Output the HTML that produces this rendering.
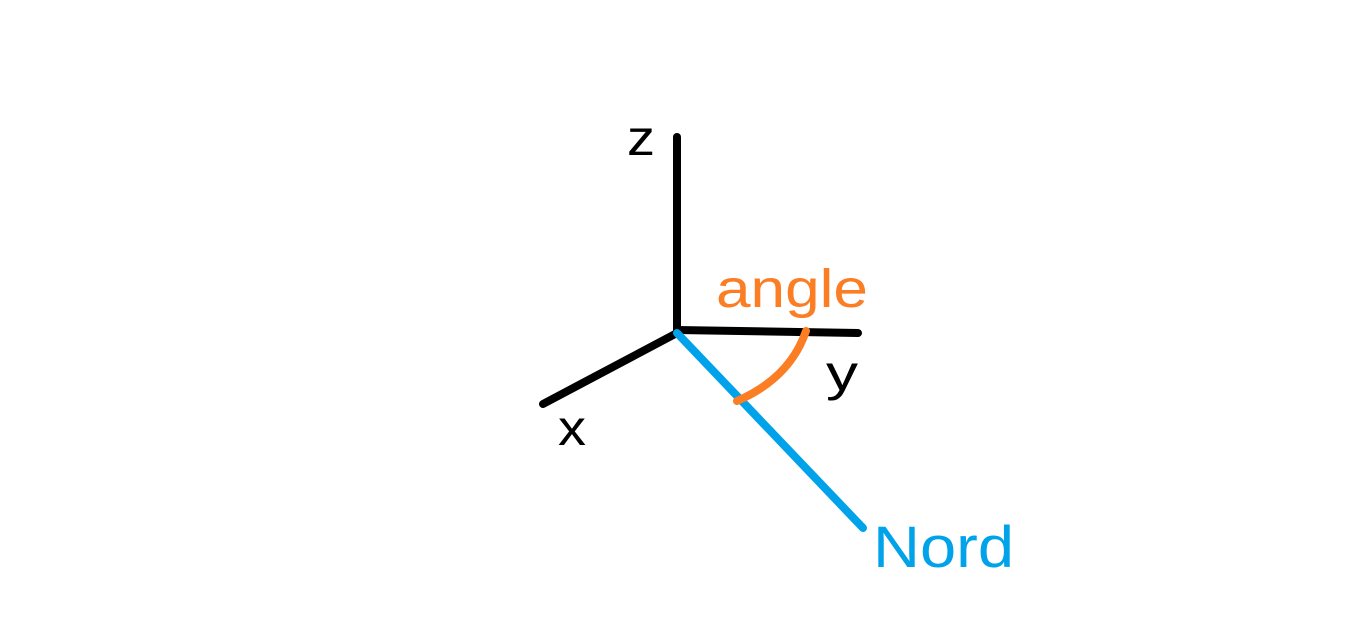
<!DOCTYPE html>
<html><head><style>
html,body{margin:0;padding:0;background:#fff;}
svg{display:block;}
text{font-family:"Liberation Sans","DejaVu Sans",sans-serif;}
</style></head><body>
<svg width="1350" height="629" viewBox="0 0 1350 629" xmlns="http://www.w3.org/2000/svg">
<g stroke-linecap="round" fill="none">
<line x1="677" y1="137" x2="677" y2="332" stroke="#000" stroke-width="8"/>
<line x1="677" y1="330" x2="858" y2="333" stroke="#000" stroke-width="8"/>
<line x1="677" y1="333" x2="543" y2="404" stroke="#000" stroke-width="8"/>
<line x1="677" y1="333" x2="863" y2="528" stroke="#00a2ea" stroke-width="8"/>
<path d="M806 331 Q790 378 737 401" stroke="#fb7d24" stroke-width="8"/>
</g>
<text x="627" y="155" font-size="50" fill="#000" textLength="28" lengthAdjust="spacingAndGlyphs">z</text>
<text x="716" y="307" font-size="54" fill="#fb7d24" textLength="152" lengthAdjust="spacingAndGlyphs">angle</text>
<text x="826" y="390" font-size="50" fill="#000" textLength="32" lengthAdjust="spacingAndGlyphs">y</text>
<text x="558" y="445" font-size="50" fill="#000" textLength="28" lengthAdjust="spacingAndGlyphs">x</text>
<text x="873" y="567" font-size="58" fill="#00a2ea" textLength="141" lengthAdjust="spacingAndGlyphs">Nord</text>
</svg>
</body></html>
